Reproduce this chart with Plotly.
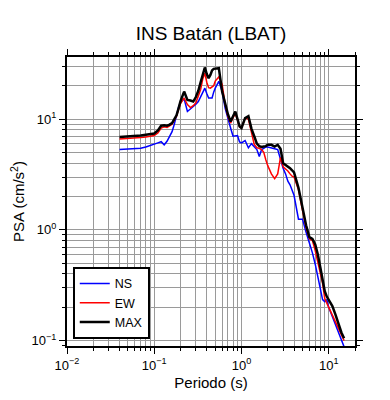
import plotly.graph_objects as go

periods = [0.04, 0.05, 0.06, 0.07, 0.08, 0.09, 0.10, 0.11, 0.12, 0.13, 0.14, 0.15, 0.16, 0.17, 0.18, 0.19,
           0.20, 0.22, 0.24, 0.26, 0.28, 0.30, 0.32, 0.34, 0.36, 0.38, 0.40, 0.42, 0.44, 0.46, 0.48, 0.50,
           0.55, 0.60, 0.65, 0.70, 0.75, 0.80, 0.85, 0.90, 0.95, 1.0, 1.1, 1.2, 1.3, 1.4, 1.5, 1.6, 1.7,
           1.8, 1.9, 2.0, 2.2, 2.4, 2.6, 2.8, 3.0, 3.2, 3.4, 3.6, 3.8, 4.0, 4.5, 5.0, 5.5, 6.0, 6.5, 7.0,
           7.5, 8.0, 8.5, 9.0, 9.5, 10, 11, 12, 13, 14, 15]

psa_max = [6.9, 6.95, 7.0, 7.1, 7.2, 7.3, 7.4, 7.9, 8.7, 8.8, 8.7, 8.9, 9.2, 10.0, 10.8, 12.5,
           14.5, 17.7, 14.9, 14.7, 14.4, 15.8, 18.0, 21.5, 26.0, 29.2, 25.5, 23.4, 25.0, 27.5, 28.4, 28.6,
           28.8, 17.7, 13.5, 11.0, 9.5, 10.5, 11.7, 10.0, 8.6, 8.3, 10.2, 10.6, 8.2, 7.0, 6.0, 5.7, 5.6,
           5.65, 5.7, 5.86, 5.86, 5.65, 5.86, 5.4, 4.0, 3.85, 3.75, 3.6, 3.45, 3.3, 2.4, 1.55, 1.1, 0.86, 0.83, 0.74,
           0.6, 0.46, 0.35, 0.28, 0.25, 0.235, 0.205, 0.17, 0.14, 0.118, 0.105]

psa_ew = [6.6, 6.65, 6.7, 6.8, 6.9, 7.0, 7.1, 7.5, 8.3, 8.5, 8.4, 8.7, 9.0, 9.8, 10.6, 12.2,
          13.8, 15.5, 13.5, 12.7, 13.2, 14.0, 16.0, 18.5, 23.0, 26.0, 21.5, 19.2, 19.0, 19.5, 20.0, 22.0,
          24.0, 20.5, 13.5, 10.5, 9.2, 10.3, 11.2, 9.8, 8.5, 8.3, 10.2, 10.0, 7.3, 5.9, 5.5, 5.45, 5.3,
          5.0, 4.3, 3.8, 3.2, 2.9, 3.2, 4.5, 3.7, 3.55, 3.4, 3.2, 3.05, 3.0, 2.3, 1.5, 1.05, 0.83, 0.8, 0.65,
          0.52, 0.42, 0.33, 0.24, 0.215, 0.2, 0.17, 0.145, 0.125, 0.11, 0.1]

psa_ns = [5.3, 5.35, 5.4, 5.45, 5.6, 5.75, 5.9, 6.1, 6.25, 5.86, 6.3, 6.9, 7.7, 9.0, 11.0, 12.8,
          14.2, 15.2, 11.7, 12.3, 13.0, 13.6, 14.4, 16.0, 17.7, 19.0, 17.0, 15.5, 15.5, 15.5, 17.5, 19.0,
          21.9, 17.7, 12.5, 9.8, 8.3, 7.0, 7.1, 7.1, 6.2, 6.1, 6.4, 5.5, 6.0, 5.6, 5.3, 4.6, 5.3,
          5.45, 5.6, 5.6, 5.45, 5.4, 5.3, 4.3, 3.6, 3.2, 2.75, 2.55, 2.3, 2.05, 1.25, 1.25, 0.95, 0.78, 0.62, 0.49,
          0.38, 0.3, 0.235, 0.225, 0.235, 0.2, 0.165, 0.14, 0.118, 0.1, 0.088]

x_major = [0.01, 0.1, 1, 10]
x_major_text = ["10<sup>\u22122</sup>", "10<sup>\u22121</sup>", "10<sup>0</sup>", "10<sup>1</sup>"]
y_major = [0.1, 1, 10]
y_major_text = ["10<sup>\u22121</sup>", "10<sup>0</sup>", "10<sup>1</sup>"]

x_minor = [m * d for d in (0.01, 0.1, 1, 10) for m in range(2, 10)]
y_minor = [m * d for d in (0.01, 0.1, 1, 10) for m in range(2, 10)]

FONT = "Liberation Sans, Arial, sans-serif"

fig = go.Figure()
fig.add_trace(go.Scatter(x=periods, y=psa_ns, mode="lines", name="NS",
                         line=dict(color="#0000ff", width=1.5)))
fig.add_trace(go.Scatter(x=periods, y=psa_ew, mode="lines", name="EW",
                         line=dict(color="#ff0000", width=1.5)))
fig.add_trace(go.Scatter(x=periods, y=psa_max, mode="lines", name="MAX",
                         line=dict(color="#000000", width=2.5)))

W, H = 382, 392  # page body has an 8px margin
grid_col = "#9a9a9a"
fig.update_layout(
    width=W, height=H,
    margin=dict(l=59, r=35, t=49, b=54, autoexpand=False),
    paper_bgcolor="white", plot_bgcolor="white",
    font=dict(family=FONT, color="black", size=12),
    title=dict(text="INS Batán (LBAT)", x=(59 + 144) / W, xanchor="center",
               y=1 - 25 / H, yanchor="middle", yref="container",
               font=dict(size=19, family=FONT, color="black")),
    showlegend=True,
    legend=dict(x=0.02, y=0.025, xanchor="left", yanchor="bottom",
                bgcolor="white", bordercolor="black", borderwidth=2,
                font=dict(size=12.5, family=FONT), tracegroupgap=4,
                itemwidth=30),
)

fig.update_xaxes(
    type="log", range=[-2, 1.301], automargin=False,
    tickmode="array", tickvals=x_major, ticktext=x_major_text,
    ticks="outside", ticklen=6, tickcolor="black", tickwidth=1,
    showline=True, linecolor="black", linewidth=2, mirror="ticks",
    showgrid=True, gridcolor=grid_col, gridwidth=0.8,
    minor=dict(tickmode="array", tickvals=x_minor, ticks="outside", ticklen=3,
               tickcolor="black", showgrid=True, gridcolor=grid_col, gridwidth=0.8),
    tickfont=dict(size=13, family=FONT),
    title=dict(text="Periodo (s)", font=dict(size=15, family=FONT), standoff=6),
    zeroline=False,
)
fig.update_yaxes(
    type="log", range=[-1.048, 1.56], automargin=False,
    tickmode="array", tickvals=y_major, ticktext=y_major_text,
    ticks="outside", ticklen=6, tickcolor="black", tickwidth=1,
    showline=True, linecolor="black", linewidth=2, mirror="ticks",
    showgrid=True, gridcolor=grid_col, gridwidth=0.8,
    minor=dict(tickmode="array", tickvals=y_minor, ticks="outside", ticklen=3,
               tickcolor="black", showgrid=True, gridcolor=grid_col, gridwidth=0.8),
    tickfont=dict(size=13, family=FONT),
    title=dict(text="PSA (cm/s<sup>2</sup>)", font=dict(size=15, family=FONT), standoff=6),
    zeroline=False,
)

fig.write_html("out.html")
